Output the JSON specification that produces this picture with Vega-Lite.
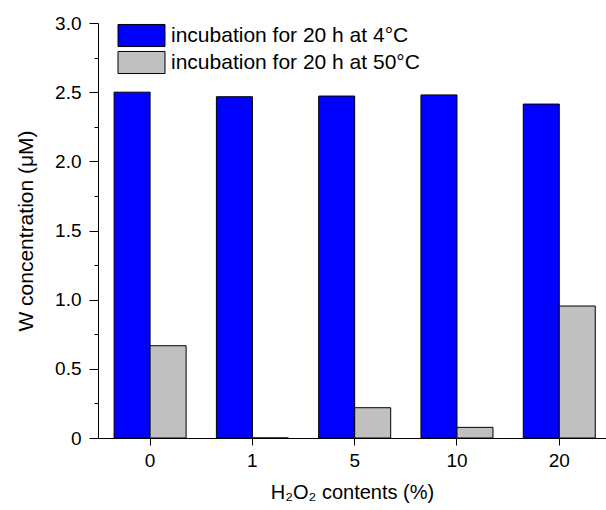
{
  "$schema": "https://vega.github.io/schema/vega-lite/v6.json",
  "width": 508,
  "height": 415,
  "autosize": {"type": "none"},
  "padding": {"left": 98, "top": 23, "right": 0, "bottom": 72},
  "background": "white",
  "data": {"values": [
    {"h2o2": "0", "cond": "incubation for 20 h at 4°C", "w": 2.50},
    {"h2o2": "0", "cond": "incubation for 20 h at 50°C", "w": 0.667},
    {"h2o2": "1", "cond": "incubation for 20 h at 4°C", "w": 2.467},
    {"h2o2": "1", "cond": "incubation for 20 h at 50°C", "w": 0.0},
    {"h2o2": "5", "cond": "incubation for 20 h at 4°C", "w": 2.472},
    {"h2o2": "5", "cond": "incubation for 20 h at 50°C", "w": 0.219},
    {"h2o2": "10", "cond": "incubation for 20 h at 4°C", "w": 2.48},
    {"h2o2": "10", "cond": "incubation for 20 h at 50°C", "w": 0.077},
    {"h2o2": "20", "cond": "incubation for 20 h at 4°C", "w": 2.414},
    {"h2o2": "20", "cond": "incubation for 20 h at 50°C", "w": 0.954}
  ]},
  "mark": {"type": "bar", "stroke": "black", "strokeWidth": 1},
  "encoding": {
    "x": {
      "field": "h2o2", "type": "nominal", "sort": ["0", "1", "5", "10", "20"],
      "scale": {"paddingInner": 0.296, "paddingOuter": 0.131, "align": 0.6},
      "axis": {
        "title": "H₂O₂ contents (%)",
        "labelAngle": 0,
        "labelFontSize": 19,
        "labelPadding": 6,
        "tickSize": 7,
        "titleFontSize": 20,
        "titleFontWeight": "normal",
        "titlePadding": 12
      }
    },
    "xOffset": {
      "field": "cond", "type": "nominal",
      "sort": ["incubation for 20 h at 4°C", "incubation for 20 h at 50°C"],
      "scale": {"paddingInner": 0, "paddingOuter": 0}
    },
    "y": {
      "field": "w", "type": "quantitative",
      "scale": {"domain": [0, 3], "nice": false},
      "axis": {
        "title": "W concentration (μM)",
        "values": [0, 0.25, 0.5, 0.75, 1, 1.25, 1.5, 1.75, 2, 2.25, 2.5, 2.75, 3],
        "labelExpr": "round(datum.value*4) % 2 == 1 ? '' : (datum.value == 0 ? '0' : format(datum.value, '.1f'))",
        "labelOverlap": false,
        "labelFontSize": 19,
        "labelPadding": 8,
        "tickSize": {"condition": {"test": "round(datum.value*4) % 2 == 1", "value": 4}, "value": 9},
        "titleFontSize": 21,
        "titleFontWeight": "normal",
        "titlePadding": 18
      }
    },
    "color": {
      "field": "cond", "type": "nominal",
      "scale": {"domain": ["incubation for 20 h at 4°C", "incubation for 20 h at 50°C"], "range": ["#0000ff", "#c0c0c0"]},
      "legend": {
        "title": null,
        "orient": "none",
        "legendX": 31,
        "legendY": 0,
        "symbolType": "M-2,-0.94H2V0.94H-2Z",
        "symbolSize": 552,
        "symbolStrokeColor": "black",
        "symbolStrokeWidth": 1,
        "symbolOpacity": 1,
        "labelFontSize": 21,
        "labelOffset": 17,
        "labelColor": "black",
        "labelLimit": 400,
        "rowPadding": 0
      }
    }
  },
  "config": {
    "view": {"stroke": null},
    "font": "Liberation Sans",
    "axis": {
      "grid": false,
      "domainColor": "black",
      "tickColor": "black",
      "labelColor": "black",
      "titleColor": "black",
      "labelFont": "Liberation Sans",
      "titleFont": "Liberation Sans"
    },
    "legend": {"labelFont": "Liberation Sans"}
  }
}
